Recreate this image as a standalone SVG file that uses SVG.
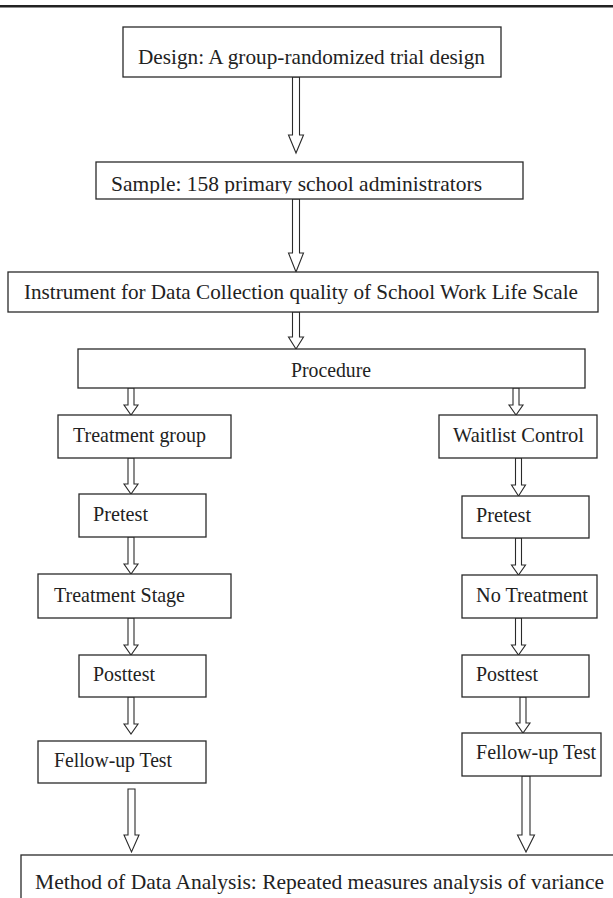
<svg xmlns="http://www.w3.org/2000/svg" width="613" height="898" viewBox="0 0 613 898">
<style>
.box{fill:#fff;stroke:#2a2a2a;stroke-width:1.3}
.t{font-family:"Liberation Serif","Times New Roman",serif;font-size:21px;fill:#222}
.ar{fill:#fff;stroke:#2a2a2a;stroke-width:1.1;stroke-linejoin:miter}
</style>
<defs>
<clipPath id="clipSample"><rect x="96" y="162" width="427" height="31.5"/></clipPath>
</defs>
<rect x="0" y="5" width="613" height="2.5" fill="#222"/>
<g id="connectors">
<path class="ar" d="M292.5,77 V135 H288.5 L296,153 L303.5,135 H299.5 V77 Z"/>
<path class="ar" d="M292.5,199 V253 H288.5 L296,272 L303.5,253 H299.5 V199 Z"/>
<path class="ar" d="M292.5,312 V337 H288.5 L296,349 L303.5,337 H299.5 V312 Z"/>
<path class="ar" d="M128,388 V405 H124 L131,415 L138,405 H134 V388 Z"/>
<path class="ar" d="M513,388 V405 H509 L516,415 L523,405 H519 V388 Z"/>
<path class="ar" d="M128,458 V484 H124 L131,494 L138,484 H134 V458 Z"/>
<path class="ar" d="M515.5,458 V485 H511.5 L518.5,496 L525.5,485 H521.5 V458 Z"/>
<path class="ar" d="M128,537 V564 H124 L131,574 L138,564 H134 V537 Z"/>
<path class="ar" d="M515.5,538 V565 H511.5 L518.5,575 L525.5,565 H521.5 V538 Z"/>
<path class="ar" d="M128,618 V645 H124 L131,655 L138,645 H134 V618 Z"/>
<path class="ar" d="M515.5,618 V645 H511.5 L518.5,655 L525.5,645 H521.5 V618 Z"/>
<path class="ar" d="M128,697 V724 H124 L131,734 L138,724 H134 V697 Z"/>
<path class="ar" d="M520,697 V723 H516 L523,733 L530,723 H526 V697 Z"/>
<path class="ar" d="M128,789 V835 H124 L131.5,852 L139,835 H135 V789 Z"/>
<path class="ar" d="M522,776 V835 H517.5 L526,852 L534.5,835 H530 V776 Z"/>
</g>
<g id="design">
<rect class="box" x="123" y="27" width="378" height="50"/>
<text class="t" x="138" y="64" textLength="347" lengthAdjust="spacingAndGlyphs">Design: A group-randomized trial design</text>
</g>
<g id="sample">
<rect class="box" x="96" y="162" width="427" height="37"/>
<text class="t" x="111" y="191" textLength="371" lengthAdjust="spacingAndGlyphs" clip-path="url(#clipSample)">Sample: 158 primary school administrators</text>
</g>
<g id="instrument">
<rect class="box" x="8" y="272" width="590" height="40"/>
<text class="t" x="24" y="299" textLength="554" lengthAdjust="spacingAndGlyphs">Instrument for Data Collection quality of School Work Life Scale</text>
</g>
<g id="procedure">
<rect class="box" x="78" y="349" width="507" height="39"/>
<text class="t" x="291" y="377" textLength="80" lengthAdjust="spacingAndGlyphs">Procedure</text>
</g>
<g id="treatment-group">
<rect class="box" x="58" y="415" width="173" height="43"/>
<text class="t" x="73" y="442" textLength="133" lengthAdjust="spacingAndGlyphs">Treatment group</text>
</g>
<g id="waitlist-control">
<rect class="box" x="439" y="415" width="158" height="43"/>
<text class="t" x="453" y="442" textLength="131" lengthAdjust="spacingAndGlyphs">Waitlist Control</text>
</g>
<g id="pretest-left">
<rect class="box" x="79" y="494" width="127" height="43"/>
<text class="t" x="93" y="521" textLength="55" lengthAdjust="spacingAndGlyphs">Pretest</text>
</g>
<g id="pretest-right">
<rect class="box" x="462" y="496" width="127" height="42"/>
<text class="t" x="476" y="522" textLength="55" lengthAdjust="spacingAndGlyphs">Pretest</text>
</g>
<g id="treatment-stage">
<rect class="box" x="38" y="574" width="193" height="44"/>
<text class="t" x="54" y="602" textLength="131" lengthAdjust="spacingAndGlyphs">Treatment Stage</text>
</g>
<g id="no-treatment">
<rect class="box" x="462" y="575" width="135" height="43"/>
<text class="t" x="476" y="602" textLength="112" lengthAdjust="spacingAndGlyphs">No Treatment</text>
</g>
<g id="posttest-left">
<rect class="box" x="79" y="655" width="127" height="42"/>
<text class="t" x="93" y="681" textLength="62" lengthAdjust="spacingAndGlyphs">Posttest</text>
</g>
<g id="posttest-right">
<rect class="box" x="462" y="655" width="127" height="42"/>
<text class="t" x="476" y="681" textLength="62" lengthAdjust="spacingAndGlyphs">Posttest</text>
</g>
<g id="followup-left">
<rect class="box" x="38" y="741" width="168" height="42"/>
<text class="t" x="54" y="767" textLength="118" lengthAdjust="spacingAndGlyphs">Fellow-up Test</text>
</g>
<g id="followup-right">
<rect class="box" x="462" y="733" width="139" height="43"/>
<text class="t" x="476" y="759" textLength="120" lengthAdjust="spacingAndGlyphs">Fellow-up Test</text>
</g>
<g id="analysis">
<rect class="box" x="21" y="855" width="620" height="60"/>
<text class="t" x="35" y="889" textLength="569" lengthAdjust="spacingAndGlyphs">Method of Data Analysis: Repeated measures analysis of variance</text>
</g>
</svg>
